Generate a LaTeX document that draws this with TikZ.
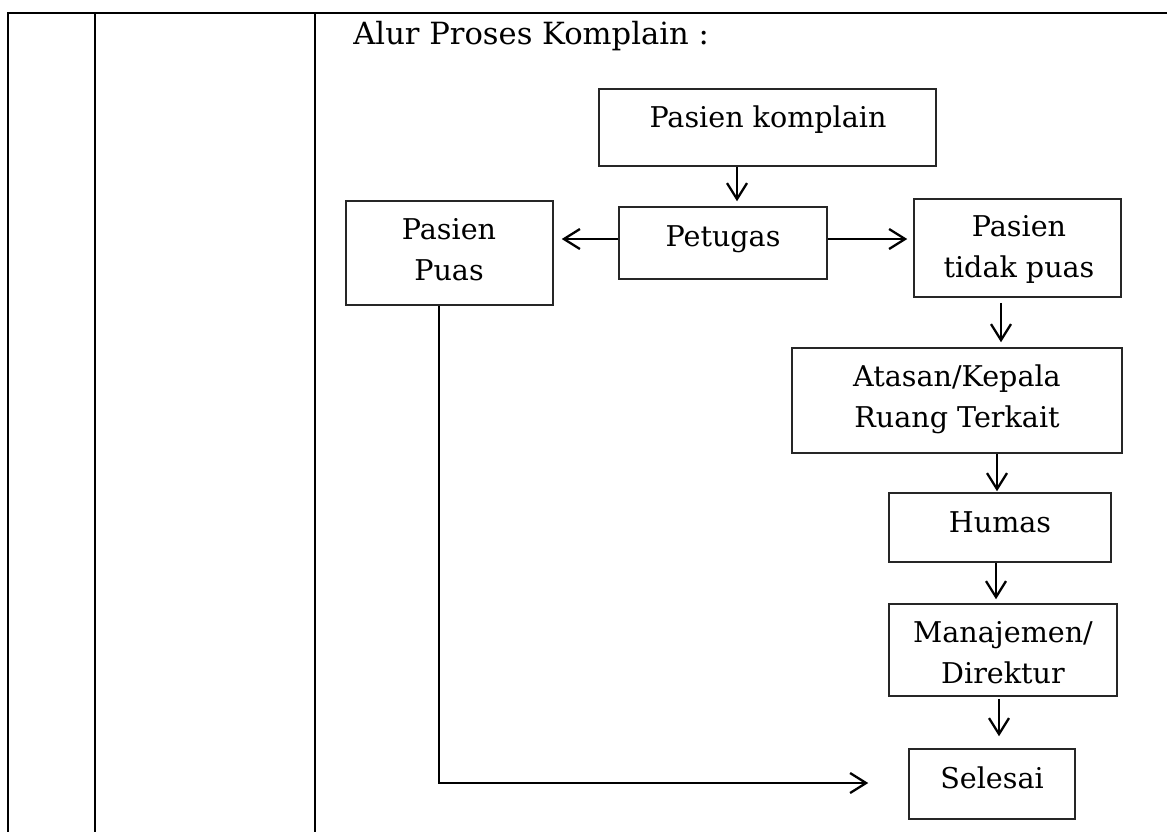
\documentclass[tikz,border=0pt]{standalone}
\usepackage{fontspec}
\setmainfont{DejaVu Serif}
\usetikzlibrary{arrows.meta,calc,fit}

\tikzset{
  rule/.style={line width=1.1pt, black},
  box/.style={draw=black!85, line width=0.75pt, inner sep=0pt},
  % multi-line texts sit on the baseline of their last line
  txt/.style={inner sep=0pt, anchor=base, align=center,
              font=\fontsize{14.3}{20.3}\selectfont},
  flow/.style={line width=1.15pt, black,
               -{Straight Barb[length=8pt,width=10pt,line width=1.15pt]}}
}

\begin{document}
\begin{tikzpicture}[x=0.5pt,y=-0.5pt]
  \useasboundingbox (0,0) rectangle (1167,832);

  % table frame: top rule and column separators
  \coordinate (tl) at (8,13);
  \coordinate (tr) at (1167,13);
  \draw[rule] (tr) -- (tl) -- (8,832);
  \draw[rule] (95,13) -- (95,832);
  \draw[rule] (315,13) -- (315,832);

  % heading
  \node[txt, anchor=base west, font=\fontsize{15.3}{20}\selectfont]
    (judul) at (353,44.3) {Alur Proses Komplain :};

  % boxes
  \node[box, fit={(599,89) (936,166)}] (komplain) {};
  \node[box, fit={(619,207) (827,279)}] (petugas) {};
  \node[box, fit={(346,201) (553,305)}] (puas) {};
  \node[box, fit={(914,199) (1121,297)}] (tidak) {};
  \node[box, fit={(792,348) (1122,453)}] (atasan) {};
  \node[box, fit={(889,493) (1111,562)}] (humas) {};
  \node[box, fit={(889,604) (1117,696)}] (manajemen) {};
  \node[box, fit={(909,749) (1075,819)}] (selesai) {};

  % box texts
  \node[txt] (komplain-t) at (768,127) {Pasien komplain};
  \node[txt] (petugas-t) at (723,246) {Petugas};
  \node[txt] (puas-t) at (449,280) {Pasien\\Puas};
  \node[txt] (tidak-t) at (1019,277.3) {Pasien\\tidak puas};
  \node[txt] (atasan-t) at (957,427) {Atasan/Kepala\\Ruang Terkait};
  \node[txt] (humas-t) at (1000,532) {Humas};
  \node[txt] (manajemen-t) at (1003,683) {Manajemen/\\Direktur};
  \node[txt] (selesai-t) at (992,788) {Selesai};

  % connectors
  \draw[flow] ($(komplain.south)+(-30.5,0)$) -- ($(petugas.north)+(14,-5)$);
  \draw[flow] ($(petugas.west)+(0,-4)$) -- ($(puas.east)+(8,-14)$);
  \draw[flow] ($(petugas.east)+(0,-4)$) -- ($(tidak.west)+(-6,-9)$);
  \draw[flow] ($(tidak.south)+(-16.5,5)$) -- ($(atasan.north)+(44,-5)$);
  \draw[flow] ($(atasan.south)+(40,0)$) -- ($(humas.north)+(-3,-1)$);
  \draw[flow] ($(humas.south)+(-4,0)$) -- ($(manajemen.north)+(-7,-4)$);
  \draw[flow] ($(manajemen.south)+(-4,2)$) -- ($(selesai.north)+(7,-12)$);
  \draw[flow] ($(puas.south)+(-10.5,0)$) |- ($(selesai.west)+(-40,-1)$);
\end{tikzpicture}
\end{document}
